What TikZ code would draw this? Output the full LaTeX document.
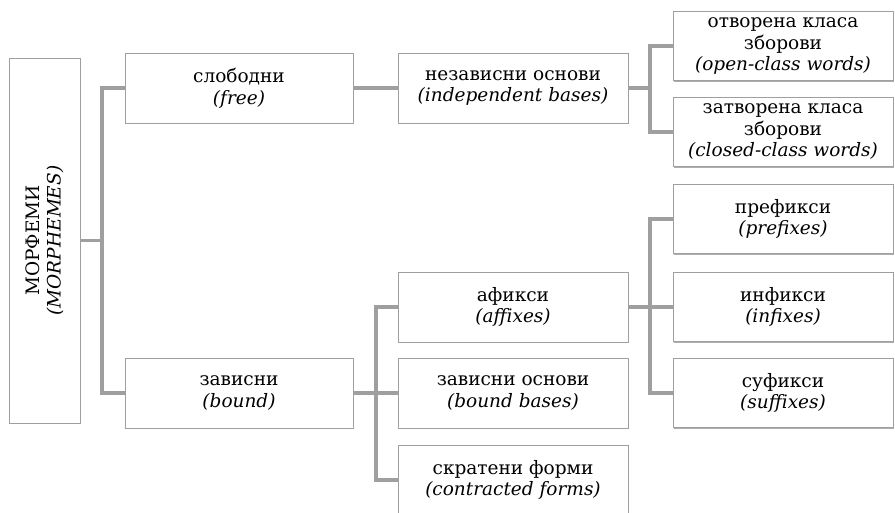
\documentclass[tikz,border=0pt]{standalone}
\usepackage{fontspec}
\setmainfont{DejaVu Serif}
\usepackage{tikz}
\usetikzlibrary{shadows}
\tikzset{morphbox/.style={
    draw=gray!75, fill=white, line width=0.6pt, align=center,
    inner sep=1pt, font=\fontsize{18.5}{21.5}\selectfont,
    drop shadow={shadow xshift=1.2pt, shadow yshift=-1.2pt, opacity=0.7, fill=gray!90},
  },
  sizeA/.style={morphbox, minimum width=228pt, minimum height=70pt},
  sizeB/.style={morphbox, minimum width=230pt, minimum height=70pt},
  sizeC/.style={morphbox, minimum width=220pt, minimum height=69pt},
  branch/.style={draw=gray!75, line width=3.5pt}
}

\begin{document}
\begin{tikzpicture}[x=1pt, y=-1pt]
      \useasboundingbox (0,0) rectangle (895,513);
      % root, turned on its side: its south anchor is the right edge
      \node[morphbox, rotate=90, minimum width=365pt, minimum height=71pt] (morph) at (44.5,240.5)
        {МОРФЕМИ\\\textit{(MORPHEMES)}};
      \node[sizeA] (free) at (239,88) {слободни\\\textit{(free)}};
      \node[sizeA] (bound) at (239,393) {зависни\\\textit{(bound)}};
      \node[sizeB] (indep) at (513,88) {независни основи\\\textit{(independent bases)}};
      \node[sizeB] (affix) at (513,307) {афикси\\\textit{(affixes)}};
      \node[sizeB] (bbase) at (513,393) {зависни основи\\\textit{(bound bases)}};
      \node[sizeB] (contr) at (513,480) {скратени форми\\\textit{(contracted forms)}};
      \node[sizeC] (open) at (783,46) {отворена класа\\зборови\\\textit{(open-class words)}};
      \node[sizeC] (closed) at (783,132) {затворена класа\\зборови\\\textit{(closed-class words)}};
      \node[sizeC] (prefix) at (783,219) {префикси\\\textit{(prefixes)}};
      \node[sizeC] (infix) at (783,307) {инфикси\\\textit{(infixes)}};
      \node[sizeC] (suffix) at (783,393) {суфикси\\\textit{(suffixes)}};
      % joints of the tree
      \coordinate (j1) at (102,240.5);
      \coordinate (j2) at (650,88);
      \coordinate (j3) at (376,393);
      \coordinate (j4) at (650,307);
      \draw[branch] (morph.south) -- (j1);
      \draw[branch] (free.west) -| (j1) |- (bound.west);
      \draw[branch] (free.east) -- (indep.west);
      \draw[branch] (indep.east) -- (j2);
      \draw[branch] (open.west) -| (j2) |- (closed.west);
      \draw[branch] (bound.east) -- (bbase.west);
      \draw[branch] (affix.west) -| (j3) |- (contr.west);
      \draw[branch] (affix.east) -- (infix.west);
      \draw[branch] (prefix.west) -| (j4) |- (suffix.west);
    \end{tikzpicture}
\end{document}
